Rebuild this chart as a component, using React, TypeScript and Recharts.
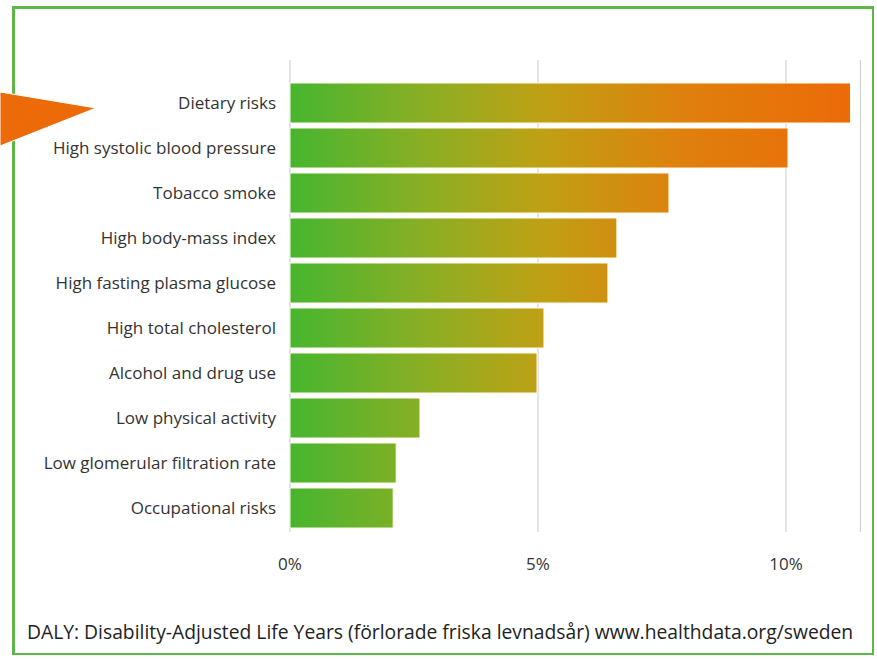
import React from 'react';
import { BarChart, Bar, XAxis, YAxis, CartesianGrid } from 'recharts';

const riskFactors = [
  'Dietary risks',
  'High systolic blood pressure',
  'Tobacco smoke',
  'High body-mass index',
  'High fasting plasma glucose',
  'High total cholesterol',
  'Alcohol and drug use',
  'Low physical activity',
  'Low glomerular filtration rate',
  'Occupational risks',
];

// share of DALY, percent
const dalyShare = [11.3, 10.04, 7.64, 6.59, 6.41, 5.12, 4.98, 2.62, 2.14, 2.08];

const xTicks = [0, 5, 10];

const footerText =
  'DALY: Disability-Adjusted Life Years (förlorade friska levnadsår) www.healthdata.org/sweden';

const data = riskFactors.map((name, i) => ({ name, value: dalyShare[i] }));

const font = '"Open Sans", "Liberation Sans", sans-serif';

export default function App() {
  return (
    <div style={{ position: 'absolute', left: 0, top: 0, width: 877, height: 659, background: '#fff', fontFamily: font }}>
      {/* green frame */}
      <div
        style={{
          position: 'absolute',
          left: 12,
          top: 6,
          width: 862,
          height: 649,
          borderStyle: 'solid',
          borderColor: '#5db647',
          borderWidth: '3px 2px 2px 3px',
          boxSizing: 'border-box',
        }}
      />
      <div style={{ position: 'absolute', left: 0, top: 0 }}>
        <BarChart
          width={877}
          height={659}
          data={data}
          layout="vertical"
          margin={{ top: 60, right: 16.6, bottom: 87, left: 0 }}
        >
          <defs>
            <linearGradient id="barGrad" gradientUnits="userSpaceOnUse" x1={290} y1={0} x2={851} y2={0}>
              <stop offset="0" stopColor="#47b52f" />
              <stop offset="0.25" stopColor="#8dae23" />
              <stop offset="0.45" stopColor="#bfa014" />
              <stop offset="0.7" stopColor="#df800d" />
              <stop offset="1" stopColor="#ec6a08" />
            </linearGradient>
          </defs>
          <CartesianGrid horizontal={false} stroke="#c9c9c9" />
          <XAxis
            type="number"
            domain={[0, 11.5]}
            ticks={xTicks}
            tickFormatter={(v) => `${v}%`}
            axisLine={false}
            tickLine={false}
            tickMargin={20}
            height={40}
            tick={{ fill: '#333', fontSize: 17, fontFamily: font }}
          />
          <YAxis
            type="category"
            dataKey="name"
            width={290}
            axisLine={false}
            tickLine={false}
            tickMargin={8}
            padding={{ top: 20, bottom: 2 }}
            interval={0}
            tick={{ fill: '#333', fontSize: 17, fontFamily: font }}
          />
          <Bar dataKey="value" fill="url(#barGrad)" barSize={40} stroke="#fffbe8" strokeWidth={1} isAnimationActive={false} />
        </BarChart>
      </div>
      {/* arrow pointing at the top bar */}
      <svg width={120} height={200} style={{ position: 'absolute', left: 0, top: 0 }}>
        <polygon points="0,92 96,108 0,146" fill="#ec6a08" stroke="#fff" strokeWidth={1} />
      </svg>
      <div
        style={{
          position: 'absolute',
          left: 27,
          top: 620,
          fontSize: 19.3,
          color: '#222',
          whiteSpace: 'nowrap',
          lineHeight: '24px',
        }}
      >
        {footerText}
      </div>
    </div>
  );
}
